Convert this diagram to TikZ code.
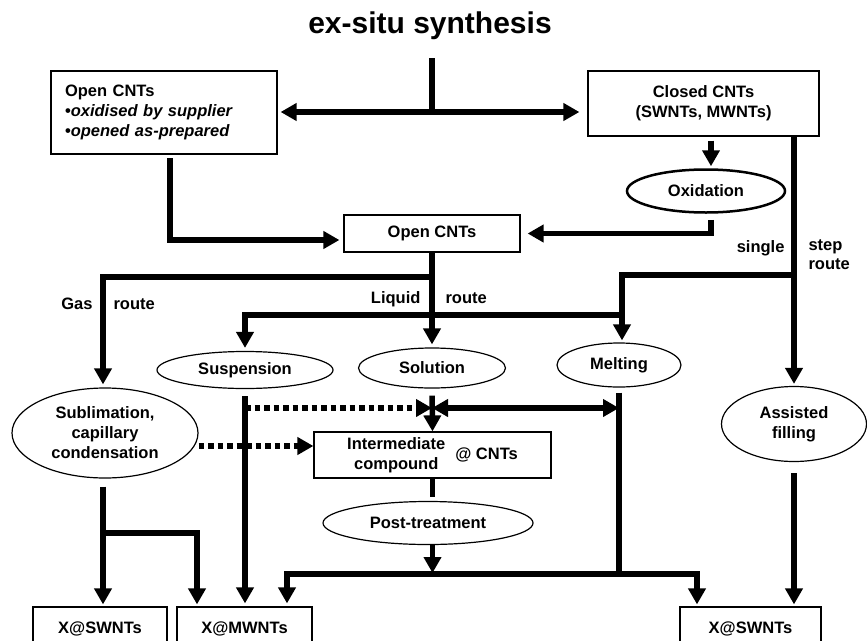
\documentclass[tikz,border=0pt]{standalone}
\usepackage{fontspec}
\setmainfont{Liberation Sans}
\usetikzlibrary{arrows.meta,shapes.geometric}

\tikzset{
  txt/.style={font=\fontsize{16.5}{20}\selectfont\bfseries},
  box/.style={txt, draw, line width=1.2pt, align=center, inner sep=0pt},
  oval/.style={txt, draw, ellipse, line width=1.2pt, align=center, inner sep=0pt},
  bar/.style={line width=5.5pt},
  flow/.style={bar, -{Triangle[width=17pt,length=16pt]}},
  flowtwo/.style={bar, {Triangle[width=17pt,length=16pt]}-{Triangle[width=17pt,length=16pt]}},
  dotflow/.style={line width=5.5pt, dash pattern=on 5.5pt off 4pt, -{Triangle[width=17pt,length=16pt]}}
}

\begin{document}
\begin{tikzpicture}[x=1pt, y=-1pt]
    \useasboundingbox (0,0) rectangle (867,640);

    % Title
    \node[font=\fontsize{30}{34}\selectfont\bfseries] (title) at (430,26) {ex-situ synthesis};

    % Starting materials
    \node[box, minimum width=226pt, minimum height=83pt, text width=198pt, align=left] (openL) at (164,112.5)
        {Open CNTs\\\textbullet\textit{oxidised by supplier}\\\textbullet\textit{opened as-prepared}};
    \node[box, minimum width=231pt, minimum height=65pt] (closed) at (703.5,103.5) {Closed CNTs\\(SWNTs, MWNTs)};
    \node[oval, line width=2.5pt, minimum width=158pt, minimum height=43pt] (oxid) at (706,191) {Oxidation};
    \node[box, minimum width=176pt, minimum height=37pt] (openC) at (432,233.5) {Open CNTs};

    % Filling routes
    \node[oval, minimum width=186pt, minimum height=90pt] (subl) at (105,433) {Sublimation,\\capillary\\condensation};
    \node[oval, minimum width=176pt, minimum height=37pt] (susp) at (245,370) {Suspension};
    \node[oval, minimum width=147pt, minimum height=40pt] (sol) at (432,368) {Solution};
    \node[oval, minimum width=124pt, minimum height=44pt] (melt) at (619,365) {Melting};
    \node[oval, minimum width=145pt, minimum height=75pt] (assist) at (794,424) {Assisted\\filling};
    \node[box, minimum width=237pt, minimum height=46pt] (inter) at (432.5,455)
        {\begin{tabular}{@{}c@{}}Intermediate\\compound\end{tabular}\hspace{10pt}@ CNTs};
    \node[oval, minimum width=210pt, minimum height=43pt] (post) at (428,523) {Post-treatment};

    % Products
    \node[box, minimum width=134pt, minimum height=43pt] (xs1) at (100,628.5) {X@SWNTs};
    \node[box, minimum width=135pt, minimum height=43pt] (xm) at (244.5,628.5) {X@MWNTs};
    \node[box, minimum width=141pt, minimum height=43pt] (xs2) at (750.5,628.5) {X@SWNTs};

    % Route labels
    \node[txt, anchor=base east] (lgas) at (96,309) {Gas};
    \node[txt, anchor=base west] (lgasr) at (110,309) {route};
    \node[txt, anchor=base east] (lliq) at (424,303) {Liquid};
    \node[txt, anchor=base west] (lliqr) at (442,303) {route};
    \node[txt, anchor=base east] (lsing) at (788,252) {single};
    \node[txt, anchor=base west] (lstep) at (805,250) {step};
    \node[txt, anchor=base west] (lstepr) at (805,269) {route};

    % Junctions
    \coordinate (t0) at (432,58);
    \coordinate (j0) at (432,112);
    \coordinate (a0) at (170,158);
    \coordinate (s0) at (794,136);
    \coordinate (s1) at (794,275);
    \coordinate (g0) at (432,277);
    \coordinate (l0) at (622,315);
    \coordinate (d0) at (245,408);
    \coordinate (x0) at (432,408);
    \coordinate (m0) at (619,408);
    \coordinate (mj) at (619,574);
    \coordinate (g1) at (103,533);

    % Top split
    \draw[bar] (t0) -- (j0);
    \draw[flowtwo, shorten <=3pt, shorten >=8pt] (j0 -| openL.east) -- (j0 -| closed.west);
    \draw[flow, shorten >=4pt] (a0) |- (openC.west |- 0,240);
    \draw[flow, shorten <=4pt, shorten >=2pt] ([xshift=7.5pt]closed.south) -- ([xshift=5pt]oxid.north);
    \draw[flow, shorten <=6pt, shorten >=7pt] ([xshift=5pt]oxid.south) |- (openC.east);

    % Single step route
    \draw[flow, shorten >=2pt] (s0) -- (assist.north);
    \draw[flow, shorten >=2pt] (s1) -| (melt.north -| l0);

    % Gas and liquid routes
    \draw[flow, shorten >=3pt] (openC.south) -- (sol.north);
    \draw[flow, shorten >=3pt] (g0) -| (subl.north -| g1);
    \draw[flow, shorten >=3pt] (l0) -| (susp.north);

    % Towards the intermediate
    \draw[dotflow] (d0) -- (x0);
    \draw[flowtwo] (x0) -- (m0);
    \draw[flow, shorten <=7pt] (sol.south) -- (inter.north);
    \draw[dotflow] (subl.east |- 0,446) -- (inter.west |- 0,446);
    \draw[bar, shorten >=4pt] (inter.south) -- (inter.south |- post.north);
    \draw[flow] (inter.south |- post.south) -- (inter.south |- 0,573);

    % Products
    \draw[flow, shorten <=7pt, shorten >=3pt] (susp.south) -- (susp.south |- xm.north);
    \draw[bar, shorten <=5pt] (melt.south) -- (mj);
    \draw[flow, shorten >=3pt] (mj) -| ([xshift=42.5pt]xm.north);
    \draw[flow, shorten >=2pt] (mj) -| ([xshift=-53.5pt]xs2.north);
    \draw[flow, shorten <=11pt, shorten >=2pt] (assist.south) -- (assist.south |- xs2.north);
    \draw[flow, shorten <=8pt, shorten >=2pt] (subl.south -| g1) -- (g1 |- xs1.north);
    \draw[flow, shorten >=2pt] (g1) -| ([xshift=-47.5pt]xm.north);
\end{tikzpicture}
\end{document}
